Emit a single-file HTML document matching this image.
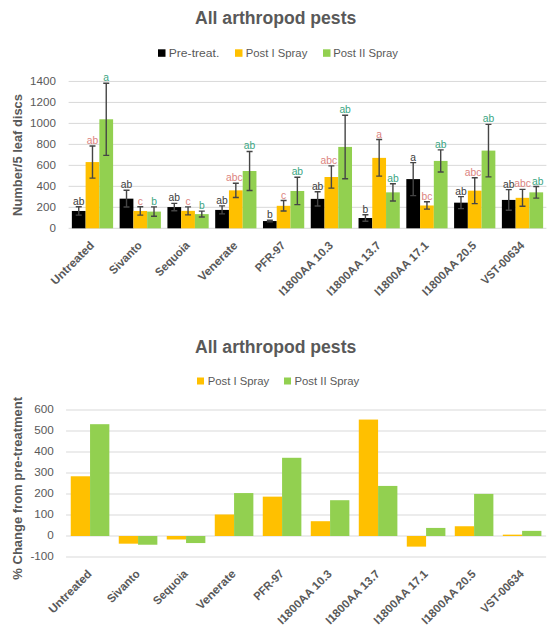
<!DOCTYPE html>
<html><head><meta charset="utf-8"><style>
html,body{margin:0;padding:0;background:#fff;width:560px;height:640px;overflow:hidden}
svg{display:block;font-family:"Liberation Sans", sans-serif}
</style></head><body>
<svg width="560" height="640" viewBox="0 0 560 640">
<rect width="560" height="640" fill="#fff"/>
<text x="195" y="23.75" font-size="17.6" font-weight="bold" fill="#595959">All arthropod pests</text>
<rect x="158" y="49.3" width="7.5" height="7.5" fill="#000000"/>
<text x="168.75" y="56.75" font-size="11.3" fill="#595959" textLength="50.5" lengthAdjust="spacingAndGlyphs">Pre-treat.</text>
<rect x="235" y="49.3" width="7.5" height="7.5" fill="#FFC000"/>
<text x="245.75" y="56.75" font-size="11.3" fill="#595959">Post I Spray</text>
<rect x="323" y="49.3" width="7.5" height="7.5" fill="#92D050"/>
<text x="333.25" y="56.75" font-size="11.3" fill="#595959">Post II Spray</text>
<text transform="translate(21.5,155) rotate(-90)" text-anchor="middle" font-size="12.9" font-weight="bold" fill="#595959">Number/5 leaf discs</text>
<text x="195" y="352.9" font-size="17.6" font-weight="bold" fill="#595959">All arthropod pests</text>
<rect x="197" y="377.5" width="7" height="7" fill="#FFC000"/>
<text x="207.7" y="384.5" font-size="11.3" fill="#595959">Post I Spray</text>
<rect x="284" y="377.5" width="7" height="7" fill="#92D050"/>
<text x="294.5" y="384.5" font-size="11.3" fill="#595959">Post II Spray</text>
<text transform="translate(22,488.3) rotate(-90)" text-anchor="middle" font-size="13" font-weight="bold" fill="#595959">% Change from pre-treatment</text>
<rect x="68.60" y="227.80" width="477.80" height="1" fill="#D9D9D9"/>
<text x="55.9" y="232.10" text-anchor="end" font-size="11.6" fill="#595959">0</text>
<rect x="68.60" y="206.82" width="477.80" height="1" fill="#D9D9D9"/>
<text x="55.9" y="211.12" text-anchor="end" font-size="11.6" fill="#595959">200</text>
<rect x="68.60" y="185.84" width="477.80" height="1" fill="#D9D9D9"/>
<text x="55.9" y="190.14" text-anchor="end" font-size="11.6" fill="#595959">400</text>
<rect x="68.60" y="164.86" width="477.80" height="1" fill="#D9D9D9"/>
<text x="55.9" y="169.16" text-anchor="end" font-size="11.6" fill="#595959">600</text>
<rect x="68.60" y="143.88" width="477.80" height="1" fill="#D9D9D9"/>
<text x="55.9" y="148.18" text-anchor="end" font-size="11.6" fill="#595959">800</text>
<rect x="68.60" y="122.90" width="477.80" height="1" fill="#D9D9D9"/>
<text x="55.9" y="127.20" text-anchor="end" font-size="11.6" fill="#595959">1000</text>
<rect x="68.60" y="101.92" width="477.80" height="1" fill="#D9D9D9"/>
<text x="55.9" y="106.22" text-anchor="end" font-size="11.6" fill="#595959">1200</text>
<rect x="68.60" y="80.94" width="477.80" height="1" fill="#D9D9D9"/>
<text x="55.9" y="85.24" text-anchor="end" font-size="11.6" fill="#595959">1400</text>
<rect x="71.86" y="210.96" width="13.75" height="17.34" fill="#000000"/>
<rect x="85.61" y="162.07" width="13.75" height="66.23" fill="#FFC000"/>
<rect x="99.36" y="119.28" width="13.75" height="109.02" fill="#92D050"/>
<path d="M78.74 206.76V215.17M75.74 206.76H81.74M75.74 215.17H81.74" stroke="#454545" stroke-width="1.4" fill="none"/>
<text x="78.74" y="204.76" text-anchor="middle" font-size="10.3" fill="#404040">ab</text>
<path d="M92.49 145.99V178.16M89.49 145.99H95.49M89.49 178.16H95.49" stroke="#454545" stroke-width="1.4" fill="none"/>
<text x="92.49" y="143.99" text-anchor="middle" font-size="10.3" fill="#DC8480">ab</text>
<path d="M106.24 83.22V155.34M103.24 83.22H109.24M103.24 155.34H109.24" stroke="#454545" stroke-width="1.4" fill="none"/>
<text x="106.24" y="81.22" text-anchor="middle" font-size="10.3" fill="#3BA683">a</text>
<text transform="translate(94.96,246.16) rotate(-45)" text-anchor="end" font-size="11.6" font-weight="bold" fill="#595959" textLength="55.69" lengthAdjust="spacingAndGlyphs">Untreated</text>
<rect x="119.64" y="198.66" width="13.75" height="29.64" fill="#000000"/>
<rect x="133.39" y="210.96" width="13.75" height="17.34" fill="#FFC000"/>
<rect x="147.14" y="211.59" width="13.75" height="16.71" fill="#92D050"/>
<path d="M126.52 190.25V207.07M123.52 190.25H129.52M123.52 207.07H129.52" stroke="#454545" stroke-width="1.4" fill="none"/>
<text x="126.52" y="188.25" text-anchor="middle" font-size="10.3" fill="#404040">ab</text>
<path d="M140.27 206.76V215.17M137.27 206.76H143.27M137.27 215.17H143.27" stroke="#454545" stroke-width="1.4" fill="none"/>
<text x="140.27" y="204.76" text-anchor="middle" font-size="10.3" fill="#DC8480">c</text>
<path d="M154.02 206.86V216.32M151.02 206.86H157.02M151.02 216.32H157.02" stroke="#454545" stroke-width="1.4" fill="none"/>
<text x="154.02" y="204.86" text-anchor="middle" font-size="10.3" fill="#3BA683">b</text>
<text transform="translate(142.74,246.16) rotate(-45)" text-anchor="end" font-size="11.6" font-weight="bold" fill="#595959" textLength="40.84" lengthAdjust="spacingAndGlyphs">Sivanto</text>
<rect x="167.42" y="207.07" width="13.75" height="21.23" fill="#000000"/>
<rect x="181.17" y="210.86" width="13.75" height="17.44" fill="#FFC000"/>
<rect x="194.92" y="214.12" width="13.75" height="14.18" fill="#92D050"/>
<path d="M174.30 203.39V210.75M171.30 203.39H177.30M171.30 210.75H177.30" stroke="#454545" stroke-width="1.4" fill="none"/>
<text x="174.30" y="201.39" text-anchor="middle" font-size="10.3" fill="#404040">ab</text>
<path d="M188.05 206.86V214.85M185.05 206.86H191.05M185.05 214.85H191.05" stroke="#454545" stroke-width="1.4" fill="none"/>
<text x="188.05" y="204.86" text-anchor="middle" font-size="10.3" fill="#DC8480">c</text>
<path d="M201.80 211.17V217.06M198.80 211.17H204.80M198.80 217.06H204.80" stroke="#454545" stroke-width="1.4" fill="none"/>
<text x="201.80" y="209.17" text-anchor="middle" font-size="10.3" fill="#3BA683">b</text>
<text transform="translate(190.52,246.16) rotate(-45)" text-anchor="end" font-size="11.6" font-weight="bold" fill="#595959" textLength="43.67" lengthAdjust="spacingAndGlyphs">Sequoia</text>
<rect x="215.20" y="209.91" width="13.75" height="18.39" fill="#000000"/>
<rect x="228.95" y="190.35" width="13.75" height="37.95" fill="#FFC000"/>
<rect x="242.70" y="171.01" width="13.75" height="57.29" fill="#92D050"/>
<path d="M222.08 205.92V213.91M219.08 205.92H225.08M219.08 213.91H225.08" stroke="#454545" stroke-width="1.4" fill="none"/>
<text x="222.08" y="203.92" text-anchor="middle" font-size="10.3" fill="#404040">ab</text>
<path d="M235.83 183.21V197.50M232.83 183.21H238.83M232.83 197.50H238.83" stroke="#454545" stroke-width="1.4" fill="none"/>
<text x="234.23" y="181.21" text-anchor="middle" font-size="10.3" fill="#DC8480">abc</text>
<path d="M249.58 151.45V190.57M246.58 151.45H252.58M246.58 190.57H252.58" stroke="#454545" stroke-width="1.4" fill="none"/>
<text x="249.58" y="149.45" text-anchor="middle" font-size="10.3" fill="#3BA683">ab</text>
<text transform="translate(238.30,246.16) rotate(-45)" text-anchor="end" font-size="11.6" font-weight="bold" fill="#595959" textLength="50.39" lengthAdjust="spacingAndGlyphs">Venerate</text>
<rect x="262.98" y="221.06" width="13.75" height="7.24" fill="#000000"/>
<rect x="276.73" y="205.81" width="13.75" height="22.49" fill="#FFC000"/>
<rect x="290.48" y="190.99" width="13.75" height="37.31" fill="#92D050"/>
<path d="M269.86 220.21V221.90M266.86 220.21H272.86M266.86 221.90H272.86" stroke="#454545" stroke-width="1.4" fill="none"/>
<text x="269.86" y="218.21" text-anchor="middle" font-size="10.3" fill="#404040">b</text>
<path d="M283.61 200.55V211.07M280.61 200.55H286.61M280.61 211.07H286.61" stroke="#454545" stroke-width="1.4" fill="none"/>
<text x="283.61" y="198.55" text-anchor="middle" font-size="10.3" fill="#DC8480">c</text>
<path d="M297.36 177.32V204.65M294.36 177.32H300.36M294.36 204.65H300.36" stroke="#454545" stroke-width="1.4" fill="none"/>
<text x="297.36" y="175.32" text-anchor="middle" font-size="10.3" fill="#3BA683">ab</text>
<text transform="translate(286.08,246.16) rotate(-45)" text-anchor="end" font-size="11.6" font-weight="bold" fill="#595959" textLength="37.31" lengthAdjust="spacingAndGlyphs">PFR-97</text>
<rect x="310.76" y="198.87" width="13.75" height="29.43" fill="#000000"/>
<rect x="324.51" y="177.00" width="13.75" height="51.30" fill="#FFC000"/>
<rect x="338.26" y="146.93" width="13.75" height="81.37" fill="#92D050"/>
<path d="M317.64 191.72V206.02M314.64 191.72H320.64M314.64 206.02H320.64" stroke="#454545" stroke-width="1.4" fill="none"/>
<text x="317.64" y="189.72" text-anchor="middle" font-size="10.3" fill="#404040">ab</text>
<path d="M331.39 165.86V188.15M328.39 165.86H334.39M328.39 188.15H334.39" stroke="#454545" stroke-width="1.4" fill="none"/>
<text x="328.89" y="163.86" text-anchor="middle" font-size="10.3" fill="#DC8480">abc</text>
<path d="M345.14 115.18V178.68M342.14 115.18H348.14M342.14 178.68H348.14" stroke="#454545" stroke-width="1.4" fill="none"/>
<text x="345.14" y="113.18" text-anchor="middle" font-size="10.3" fill="#3BA683">ab</text>
<text transform="translate(333.86,246.16) rotate(-45)" text-anchor="end" font-size="11.6" font-weight="bold" fill="#595959" textLength="71.25" lengthAdjust="spacingAndGlyphs">I1800AA 10.3</text>
<rect x="358.54" y="218.01" width="13.75" height="10.29" fill="#000000"/>
<rect x="372.29" y="157.87" width="13.75" height="70.43" fill="#FFC000"/>
<rect x="386.04" y="192.35" width="13.75" height="35.95" fill="#92D050"/>
<path d="M365.42 214.75V221.27M362.42 214.75H368.42M362.42 221.27H368.42" stroke="#454545" stroke-width="1.4" fill="none"/>
<text x="365.42" y="212.75" text-anchor="middle" font-size="10.3" fill="#404040">b</text>
<path d="M379.17 139.57V176.16M376.17 139.57H382.17M376.17 176.16H382.17" stroke="#454545" stroke-width="1.4" fill="none"/>
<text x="379.17" y="137.57" text-anchor="middle" font-size="10.3" fill="#DC8480">a</text>
<path d="M392.92 183.73V200.97M389.92 183.73H395.92M389.92 200.97H395.92" stroke="#454545" stroke-width="1.4" fill="none"/>
<text x="392.92" y="181.73" text-anchor="middle" font-size="10.3" fill="#3BA683">ab</text>
<text transform="translate(381.64,246.16) rotate(-45)" text-anchor="end" font-size="11.6" font-weight="bold" fill="#595959" textLength="71.25" lengthAdjust="spacingAndGlyphs">I1800AA 13.7</text>
<rect x="406.32" y="179.10" width="13.75" height="49.20" fill="#000000"/>
<rect x="420.07" y="205.49" width="13.75" height="22.81" fill="#FFC000"/>
<rect x="433.82" y="160.92" width="13.75" height="67.38" fill="#92D050"/>
<path d="M413.20 162.60V195.61M410.20 162.60H416.20M410.20 195.61H416.20" stroke="#454545" stroke-width="1.4" fill="none"/>
<text x="413.20" y="160.60" text-anchor="middle" font-size="10.3" fill="#404040">a</text>
<path d="M426.95 201.81V209.17M423.95 201.81H429.95M423.95 209.17H429.95" stroke="#454545" stroke-width="1.4" fill="none"/>
<text x="426.95" y="199.81" text-anchor="middle" font-size="10.3" fill="#DC8480">bc</text>
<path d="M440.70 149.88V171.96M437.70 149.88H443.70M437.70 171.96H443.70" stroke="#454545" stroke-width="1.4" fill="none"/>
<text x="440.70" y="147.88" text-anchor="middle" font-size="10.3" fill="#3BA683">ab</text>
<text transform="translate(429.42,246.16) rotate(-45)" text-anchor="end" font-size="11.6" font-weight="bold" fill="#595959" textLength="71.25" lengthAdjust="spacingAndGlyphs">I1800AA 17.1</text>
<rect x="454.10" y="202.66" width="13.75" height="25.64" fill="#000000"/>
<rect x="467.85" y="190.67" width="13.75" height="37.63" fill="#FFC000"/>
<rect x="481.60" y="150.61" width="13.75" height="77.69" fill="#92D050"/>
<path d="M460.98 196.66V208.65M457.98 196.66H463.98M457.98 208.65H463.98" stroke="#454545" stroke-width="1.4" fill="none"/>
<text x="460.98" y="194.66" text-anchor="middle" font-size="10.3" fill="#404040">ab</text>
<path d="M474.73 177.74V203.60M471.73 177.74H477.73M471.73 203.60H477.73" stroke="#454545" stroke-width="1.4" fill="none"/>
<text x="473.13" y="175.74" text-anchor="middle" font-size="10.3" fill="#DC8480">abc</text>
<path d="M488.48 124.33V176.90M485.48 124.33H491.48M485.48 176.90H491.48" stroke="#454545" stroke-width="1.4" fill="none"/>
<text x="488.48" y="122.33" text-anchor="middle" font-size="10.3" fill="#3BA683">ab</text>
<text transform="translate(477.20,246.16) rotate(-45)" text-anchor="end" font-size="11.6" font-weight="bold" fill="#595959" textLength="71.25" lengthAdjust="spacingAndGlyphs">I1800AA 20.5</text>
<rect x="501.88" y="199.92" width="13.75" height="28.38" fill="#000000"/>
<rect x="515.63" y="197.82" width="13.75" height="30.48" fill="#FFC000"/>
<rect x="529.38" y="192.35" width="13.75" height="35.95" fill="#92D050"/>
<path d="M508.76 189.62V210.23M505.76 189.62H511.76M505.76 210.23H511.76" stroke="#454545" stroke-width="1.4" fill="none"/>
<text x="508.76" y="187.62" text-anchor="middle" font-size="10.3" fill="#404040">ab</text>
<path d="M522.51 189.41V206.23M519.51 189.41H525.51M519.51 206.23H525.51" stroke="#454545" stroke-width="1.4" fill="none"/>
<text x="522.51" y="187.41" text-anchor="middle" font-size="10.3" fill="#DC8480">abc</text>
<path d="M536.26 186.57V198.14M533.26 186.57H539.26M533.26 198.14H539.26" stroke="#454545" stroke-width="1.4" fill="none"/>
<text x="537.76" y="184.57" text-anchor="middle" font-size="10.3" fill="#3BA683">ab</text>
<text transform="translate(524.98,246.16) rotate(-45)" text-anchor="end" font-size="11.6" font-weight="bold" fill="#595959" textLength="55.34" lengthAdjust="spacingAndGlyphs">VST-00634</text>
<rect x="66.05" y="556.50" width="480.05" height="1" fill="#D9D9D9"/>
<text x="53.8" y="560.40" text-anchor="end" font-size="11.7" fill="#595959">-100</text>
<rect x="66.05" y="535.50" width="480.05" height="1" fill="#D9D9D9"/>
<text x="53.8" y="539.40" text-anchor="end" font-size="11.7" fill="#595959">0</text>
<rect x="66.05" y="514.50" width="480.05" height="1" fill="#D9D9D9"/>
<text x="53.8" y="518.40" text-anchor="end" font-size="11.7" fill="#595959">100</text>
<rect x="66.05" y="493.50" width="480.05" height="1" fill="#D9D9D9"/>
<text x="53.8" y="497.40" text-anchor="end" font-size="11.7" fill="#595959">200</text>
<rect x="66.05" y="472.50" width="480.05" height="1" fill="#D9D9D9"/>
<text x="53.8" y="476.40" text-anchor="end" font-size="11.7" fill="#595959">300</text>
<rect x="66.05" y="451.50" width="480.05" height="1" fill="#D9D9D9"/>
<text x="53.8" y="455.40" text-anchor="end" font-size="11.7" fill="#595959">400</text>
<rect x="66.05" y="430.50" width="480.05" height="1" fill="#D9D9D9"/>
<text x="53.8" y="434.40" text-anchor="end" font-size="11.7" fill="#595959">500</text>
<rect x="66.05" y="409.50" width="480.05" height="1" fill="#D9D9D9"/>
<text x="53.8" y="413.40" text-anchor="end" font-size="11.7" fill="#595959">600</text>
<rect x="70.75" y="476.27" width="19.30" height="59.73" fill="#FFC000"/>
<rect x="90.05" y="424.19" width="19.30" height="111.81" fill="#92D050"/>
<text transform="translate(92.52,574.60) rotate(-45)" text-anchor="end" font-size="11.6" font-weight="bold" fill="#595959" textLength="55.69" lengthAdjust="spacingAndGlyphs">Untreated</text>
<rect x="118.76" y="536.00" width="19.30" height="7.68" fill="#FFC000"/>
<rect x="138.06" y="536.00" width="19.30" height="8.73" fill="#92D050"/>
<text transform="translate(140.53,574.60) rotate(-45)" text-anchor="end" font-size="11.6" font-weight="bold" fill="#595959" textLength="40.84" lengthAdjust="spacingAndGlyphs">Sivanto</text>
<rect x="166.76" y="536.00" width="19.30" height="3.48" fill="#FFC000"/>
<rect x="186.06" y="536.00" width="19.30" height="7.05" fill="#92D050"/>
<text transform="translate(188.53,574.60) rotate(-45)" text-anchor="end" font-size="11.6" font-weight="bold" fill="#595959" textLength="43.67" lengthAdjust="spacingAndGlyphs">Sequoia</text>
<rect x="214.77" y="514.49" width="19.30" height="21.51" fill="#FFC000"/>
<rect x="234.07" y="493.07" width="19.30" height="42.93" fill="#92D050"/>
<text transform="translate(236.54,574.60) rotate(-45)" text-anchor="end" font-size="11.6" font-weight="bold" fill="#595959" textLength="50.39" lengthAdjust="spacingAndGlyphs">Venerate</text>
<rect x="262.77" y="496.64" width="19.30" height="39.36" fill="#FFC000"/>
<rect x="282.07" y="457.79" width="19.30" height="78.21" fill="#92D050"/>
<text transform="translate(284.54,574.60) rotate(-45)" text-anchor="end" font-size="11.6" font-weight="bold" fill="#595959" textLength="37.31" lengthAdjust="spacingAndGlyphs">PFR-97</text>
<rect x="310.78" y="521.21" width="19.30" height="14.79" fill="#FFC000"/>
<rect x="330.08" y="500.21" width="19.30" height="35.79" fill="#92D050"/>
<text transform="translate(332.55,574.60) rotate(-45)" text-anchor="end" font-size="11.6" font-weight="bold" fill="#595959" textLength="71.25" lengthAdjust="spacingAndGlyphs">I1800AA 10.3</text>
<rect x="358.78" y="419.57" width="19.30" height="116.43" fill="#FFC000"/>
<rect x="378.08" y="485.93" width="19.30" height="50.07" fill="#92D050"/>
<text transform="translate(380.55,574.60) rotate(-45)" text-anchor="end" font-size="11.6" font-weight="bold" fill="#595959" textLength="71.25" lengthAdjust="spacingAndGlyphs">I1800AA 13.7</text>
<rect x="406.79" y="536.00" width="19.30" height="10.62" fill="#FFC000"/>
<rect x="426.09" y="527.93" width="19.30" height="8.07" fill="#92D050"/>
<text transform="translate(428.56,574.60) rotate(-45)" text-anchor="end" font-size="11.6" font-weight="bold" fill="#595959" textLength="71.25" lengthAdjust="spacingAndGlyphs">I1800AA 17.1</text>
<rect x="454.79" y="526.25" width="19.30" height="9.75" fill="#FFC000"/>
<rect x="474.09" y="493.91" width="19.30" height="42.09" fill="#92D050"/>
<text transform="translate(476.56,574.60) rotate(-45)" text-anchor="end" font-size="11.6" font-weight="bold" fill="#595959" textLength="71.25" lengthAdjust="spacingAndGlyphs">I1800AA 20.5</text>
<rect x="502.80" y="534.65" width="19.30" height="1.35" fill="#FFC000"/>
<rect x="522.10" y="530.87" width="19.30" height="5.13" fill="#92D050"/>
<text transform="translate(524.57,574.60) rotate(-45)" text-anchor="end" font-size="11.6" font-weight="bold" fill="#595959" textLength="55.34" lengthAdjust="spacingAndGlyphs">VST-00634</text>
</svg>
</body></html>
